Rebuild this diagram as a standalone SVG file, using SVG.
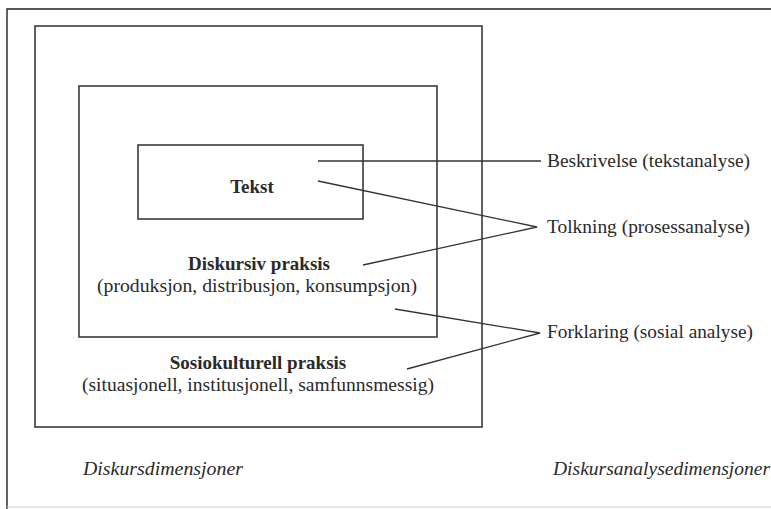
<svg xmlns="http://www.w3.org/2000/svg" width="771" height="509" viewBox="0 0 771 509">
<style>
  .box { fill: none; stroke: #3a3a3a; stroke-width: 1.6; }
  .frame { fill: none; stroke: #222; stroke-width: 1.4; }
  .conn { fill: none; stroke: #333; stroke-width: 1.3; }
  text { font-family: "Liberation Serif", "Times New Roman", serif; font-size: 19px; fill: #2a2a2a; }
  .b { font-weight: bold; }
  .c { text-anchor: middle; }
  .it { font-style: italic; }
</style>
<rect width="771" height="509" fill="#ffffff"/>
<path class="frame" d="M7,509 V9 H771"/>
<line x1="7" y1="507" x2="771" y2="507" stroke="#cfcfcf" stroke-width="1"/>

<g id="sosiokulturell">
  <rect class="box" x="35" y="26" width="447" height="401"/>
  <text class="b c" x="258" y="369">Sosiokulturell praksis</text>
  <text class="c" x="258" y="391" textLength="352" lengthAdjust="spacingAndGlyphs">(situasjonell, institusjonell, samfunnsmessig)</text>
</g>
<g id="diskursiv">
  <rect class="box" x="79" y="86" width="358" height="251"/>
  <text class="b c" x="259" y="270">Diskursiv praksis</text>
  <text class="c" x="257" y="292" textLength="320" lengthAdjust="spacingAndGlyphs">(produksjon, distribusjon, konsumpsjon)</text>
</g>
<g id="tekst">
  <rect class="box" x="138" y="145" width="225" height="74"/>
  <text class="b c" x="252" y="193">Tekst</text>
</g>

<g id="beskrivelse"><text x="547" y="167" textLength="203" lengthAdjust="spacingAndGlyphs">Beskrivelse (tekstanalyse)</text></g>
<g id="tolkning"><text x="547" y="233" textLength="203" lengthAdjust="spacingAndGlyphs">Tolkning (prosessanalyse)</text></g>
<g id="forklaring"><text x="547" y="338" textLength="206" lengthAdjust="spacingAndGlyphs">Forklaring (sosial analyse)</text></g>

<g id="diskursdimensjoner"><text class="it" x="83" y="475" textLength="160" lengthAdjust="spacingAndGlyphs">Diskursdimensjoner</text></g>
<g id="diskursanalysedimensjoner"><text class="it" x="553" y="475" textLength="217" lengthAdjust="spacingAndGlyphs">Diskursanalysedimensjoner</text></g>

<g id="connectors">
  <line class="conn" x1="318" y1="161" x2="541" y2="161"/>
  <polyline class="conn" points="318,181 537,227 363,265"/>
  <polyline class="conn" points="395,309 540,333 407,369"/>
</g>
</svg>
